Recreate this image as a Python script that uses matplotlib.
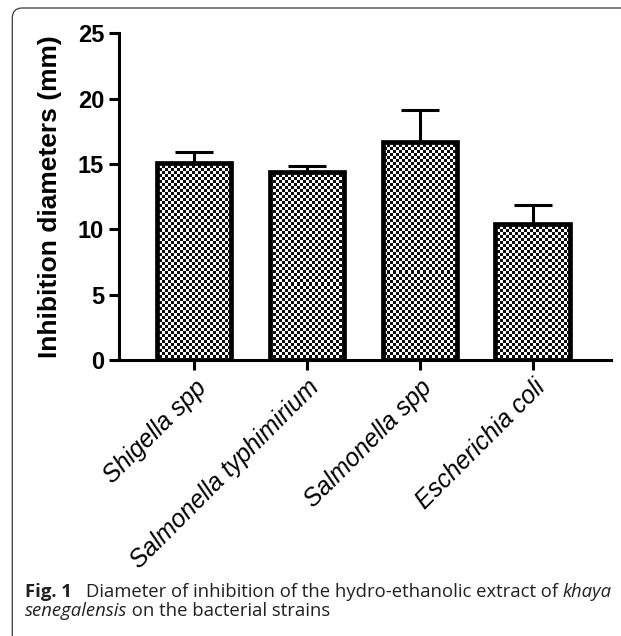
import matplotlib
matplotlib.use('Agg')
import matplotlib.pyplot as plt
import numpy as np
from matplotlib.patches import FancyBboxPatch
import matplotlib.transforms as mtransforms

categories = ['Shigella spp', 'Salmonella typhimirium', 'Salmonella spp', 'Escherichia coli']
means = [15.05, 14.4, 16.7, 10.4]
errors = [0.9, 0.45, 2.4, 1.45]
yticks = [0, 5, 10, 15, 20, 25]
ylabel = 'Inhibition diameters (mm)'

W, H = 621, 636
fig = plt.figure(figsize=(W / 100, H / 100), dpi=100)
ax_l, ax_r, ax_t, ax_b = 119.3, 610.7, 33.3, 360.0
ax = fig.add_axes([ax_l / W, 1 - ax_b / H, (ax_r - ax_l) / W, (ax_b - ax_t) / H])

x = np.arange(len(categories))
xlim = (-0.66, 3.69)
ylim = (0, 25)

# checkerboard fill image (pixel-sized cells)
nx, ny = int(ax_r - ax_l), int(ax_b - ax_t)
ii, jj = np.indices((ny, nx))
checker = ((ii // 3 + jj // 3) % 2).astype(float)

ax.errorbar(x, means, yerr=[np.zeros(len(means)), errors], fmt='none', ecolor='black',
            elinewidth=2.2, capsize=13.5, capthick=2.2, zorder=1.5)
bars = ax.bar(x, means, width=0.66, facecolor='none', edgecolor='black', linewidth=3.4, zorder=3)
for b in bars:
    im = ax.imshow(checker, cmap='gray', vmin=-0.05, vmax=1.0, extent=(xlim[0], xlim[1], ylim[0], ylim[1]),
                   aspect='auto', interpolation='nearest', zorder=2)
    im.set_clip_path(b)

ax.set_xlim(*xlim)
ax.set_ylim(*ylim)
ax.set_aspect('auto')

for s in ['top', 'right']:
    ax.spines[s].set_visible(False)
for s in ['left', 'bottom']:
    ax.spines[s].set_linewidth(2.2)
    ax.spines[s].set_color('black')

ax.set_yticks(yticks)
ax.set_yticklabels([str(v) for v in yticks], fontfamily='Liberation Sans', fontweight='bold', fontsize=17)
ax.set_xticks(x)
ax.set_xticklabels(categories, fontfamily='Liberation Sans', fontstyle='italic', fontsize=17.8,
                   rotation=45, ha='right', va='top', rotation_mode='anchor')
ax.tick_params(axis='both', width=2.2, length=7, color='black')
ax.tick_params(axis='y', pad=4)
ax.tick_params(axis='x', pad=4)

ax.set_ylabel(ylabel, fontfamily='Liberation Sans', fontweight='bold', fontsize=19)
ax.yaxis.set_label_coords((62 - ax_l) / (ax_r - ax_l), 0.5)

# outer frame
frame = FancyBboxPatch((12.3, -60), 800, 636 - 8 + 60, boxstyle='round,pad=0,rounding_size=10',
                       transform=mtransforms.IdentityTransform(), facecolor='none',
                       edgecolor='#3a3a3a', linewidth=0.9)
fig.add_artist(frame)

# caption
renderer = fig.canvas.get_renderer()
cap_color = '#231f20'
fs = 13.3
y1 = 1 - 597 / H
y2 = 1 - 616 / H
x0 = 25 / W

def put(xpos, ypos, s, **kw):
    t = fig.text(xpos, ypos, s, fontsize=fs, color=cap_color, fontfamily='Open Sans', va='baseline', ha='left', **kw)
    bb = t.get_window_extent(renderer=renderer)
    return xpos + bb.width / W

xp = put(x0, y1, 'Fig. 1', fontweight='bold')
xp += 14 / W
xp = put(xp, y1, 'Diameter of inhibition of the hydro-ethanolic extract of ')
put(xp, y1, 'khaya', fontstyle='italic')
xp = put(x0, y2, 'senegalensis', fontstyle='italic')
put(xp, y2, ' on the bacterial strains')

fig.savefig('out.png', dpi=100)
